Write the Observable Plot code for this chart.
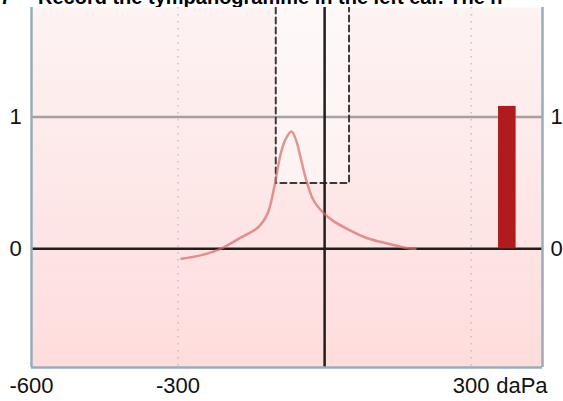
<!DOCTYPE html>
<html>
<head>
<meta charset="utf-8">
<script src="https://cdn.jsdelivr.net/npm/d3@7"></script>
<script src="https://cdn.jsdelivr.net/npm/@observablehq/plot@0.6"></script>
<style>
  html, body { margin: 0; padding: 0; background: #fff; }
  #title { position: relative; height: 7px; overflow: hidden; width: 563px; }
  #title span { position: absolute; top: -14px; white-space: nowrap;
    font: bold 20px Arial, "Liberation Sans", sans-serif; color: #000; }
  #chart svg { display: block; overflow: hidden; }
</style>
</head>
<body>
<div id="title"><span style="left:0">7</span><span style="left:38px">Record the tympanogramme in the left ear. The n</span></div>
<div id="chart"></div>
<script>
// Tympanogram curve (pressure daPa, compliance ml)
const pressure = [-293, -254, -213, -172, -137, -117, -104, -90, -80, -68, -59, -49, -39, -23, -2, 18, 47, 88, 129, 170, 186];
const compliance = [-0.075, -0.05, 0, 0.085, 0.16, 0.265, 0.45, 0.72, 0.83, 0.89, 0.83, 0.69, 0.54, 0.37, 0.27, 0.21, 0.15, 0.08, 0.04, 0.005, 0];

// Normal zone box
const boxX = [-100, 50];
const boxBottom = 0.5;

// Ear canal volume bar
const barX = [356, 392];
const barValue = 1.08;

// Axis ticks / labels
const xTicks = [-600, -300, 300];
const xLabels = ["-600", "-300", "300"];
const gridX = [-300, 300];
const yTicks = [0, 1];
const xUnit = "daPa";

const xDomain = [-600, 446];
const yDomain = [-0.9, 1.83];

const curve = pressure.map((p, i) => ({p, c: compliance[i]}));
const box = [
  {x: boxX[0], y: yDomain[1]}, {x: boxX[0], y: boxBottom},
  {x: boxX[1], y: boxBottom}, {x: boxX[1], y: yDomain[1]}
];
const font = "Arial, 'Liberation Sans', sans-serif";

const plot = Plot.plot({
  width: 563,
  height: 394,
  marginTop: 0,
  marginBottom: 34,
  marginLeft: 31,
  marginRight: 21,
  x: {domain: xDomain, axis: null},
  y: {domain: yDomain, axis: null},
  style: {fontFamily: font, background: "white"},
  marks: [
    Plot.frame({fill: "url(#bggrad)", stroke: "none"}),
    Plot.rect([0], {x1: boxX[0], x2: boxX[1], y1: boxBottom, y2: yDomain[1], fill: "white", fillOpacity: 0.45}),
    Plot.ruleX(gridX, {stroke: "#b8b8b8", strokeWidth: 1.2, strokeDasharray: "1.5,5.5"}),
    Plot.ruleY([1], {stroke: "#8f8f8f", strokeWidth: 2.5, strokeOpacity: 0.8}),
    Plot.line(box, {x: "x", y: "y", stroke: "#3a3a3a", strokeWidth: 2, strokeDasharray: "6,4"}),
    Plot.ruleY([0], {stroke: "#1e1e1e", strokeWidth: 2.5}),
    Plot.ruleX([0], {stroke: "#1e1e1e", strokeWidth: 2.5}),
    Plot.line(curve, {x: "p", y: "c", curve: "catmull-rom", stroke: "#d66a6a", strokeWidth: 2.5, strokeOpacity: 0.7}),
    Plot.rectY([0], {x1: barX[0], x2: barX[1], y1: 0, y2: barValue, fill: "#b01b1e"}),
    Plot.ruleX([xDomain[0], xDomain[1]], {stroke: "#97aeb8", strokeWidth: 2.5}),
    Plot.ruleY([yDomain[0]], {stroke: "#97aeb8", strokeWidth: 2.5}),
    Plot.text(xTicks, {x: d => d, text: (d, i) => xLabels[i], frameAnchor: "bottom", dy: 18, lineAnchor: "middle", fontSize: 22, fill: "#111"}),
    Plot.text([xUnit], {x: () => 300, text: d => d, frameAnchor: "bottom", dy: 18, dx: 25, textAnchor: "start", lineAnchor: "middle", fontSize: 22, fill: "#111"}),
    Plot.text(yTicks, {y: d => d, text: d => String(d), frameAnchor: "left", dx: -16, textAnchor: "middle", fontSize: 22, fill: "#111"}),
    Plot.text(yTicks, {y: d => d, text: d => String(d), frameAnchor: "right", dx: 14, textAnchor: "middle", fontSize: 22, fill: "#111"})
  ]
});

const defs = d3.select(plot).insert("defs", ":first-child");
const g = defs.append("linearGradient").attr("id", "bggrad").attr("x1", 0).attr("y1", 0).attr("x2", 0).attr("y2", 1);
g.append("stop").attr("offset", "0%").attr("stop-color", "#fdf3f3");
g.append("stop").attr("offset", "100%").attr("stop-color", "#ffdcdc");

document.getElementById("chart").append(plot);
</script>
</body>
</html>
